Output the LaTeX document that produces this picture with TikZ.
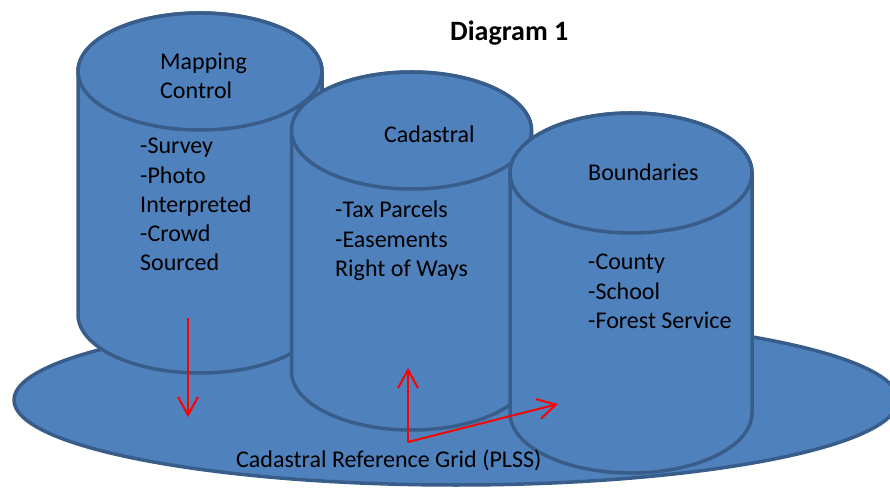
\documentclass[tikz,border=0pt]{standalone}
\usepackage{fontspec}
\setmainfont{Carlito}
\usetikzlibrary{arrows.meta}
\definecolor{cylfill}{HTML}{4F81BD}
\definecolor{cyledge}{HTML}{385D8A}
\definecolor{arrowred}{HTML}{FF0000}
\tikzset{
  cylshape/.style={fill=cylfill, draw=cyledge, line width=3.5pt, line join=round},
  txt/.style={inner sep=0pt, font=\fontsize{24}{29.3}\selectfont, text=black},
  listtxt/.style={txt, align=left, anchor=base west},
  redarrow/.style={draw=arrowred, line width=2pt, -{Straight Barb[length=18pt,width=20pt]}}
}
% #1 cx, #2 top centre y, #3 bottom centre y, #4 rx, #5 ry
\newcommand\cylinderdraw[5]{%
  \path[cylshape] (#1-#4,#2) -- (#1-#4,#3)
    arc[start angle=180, end angle=360, x radius=#4, y radius=#5]
    -- (#1+#4,#2)
    arc[start angle=0, end angle=180, x radius=#4, y radius=#5] -- cycle;
  \path[cylshape] (#1,#2) ellipse[x radius=#4, y radius=#5];
}
\begin{document}
\begin{tikzpicture}[x=1pt, y=1pt]
  \useasboundingbox (0,0) rectangle (890,487);
  \clip (0,0) rectangle (890,487);
  % base plate
  \path[cylshape] (456,87) ellipse[x radius=442, y radius=85];
  % cylinders
  \cylinderdraw{200}{415.5}{172.5}{122}{58.5}
  \cylinderdraw{411.5}{356.5}{115.5}{120}{58.5}
  \cylinderdraw{631}{314}{74}{121}{60}
  % texts (base anchor = baseline of the last line)
  \node[txt, font=\fontsize{28}{33}\selectfont\bfseries, anchor=base west] (title) at (450,446) {Diagram 1};
  \node[listtxt] (mctitle) at (160,388) {Mapping\\Control};
  \node[listtxt] (mclist) at (140,216) {-Survey\\-Photo\\Interpreted\\-Crowd\\Sourced};
  \node[listtxt] (cadtitle) at (384,344) {Cadastral};
  \node[listtxt] (cadlist) at (335,210.5) {-Tax Parcels\\-Easements\\Right of Ways};
  \node[listtxt] (bndtitle) at (588,306) {Boundaries};
  \node[listtxt] (bndlist) at (588,158.5) {-County\\-School\\-Forest Service};
  \node[listtxt] (grid) at (236,20) {Cadastral Reference Grid (PLSS)};
  % arrows
  \coordinate (a1s) at (188,169);
  \coordinate (a1e) at (188,70);
  \coordinate (origin) at (408,45);
  \coordinate (upend) at (408,119);
  \coordinate (rightend) at (558,83);
  \draw[redarrow] (a1s) -- (a1e);
  \draw[redarrow] (origin) -- (upend);
  \draw[redarrow] (origin) -- (rightend);
\end{tikzpicture}
\end{document}
